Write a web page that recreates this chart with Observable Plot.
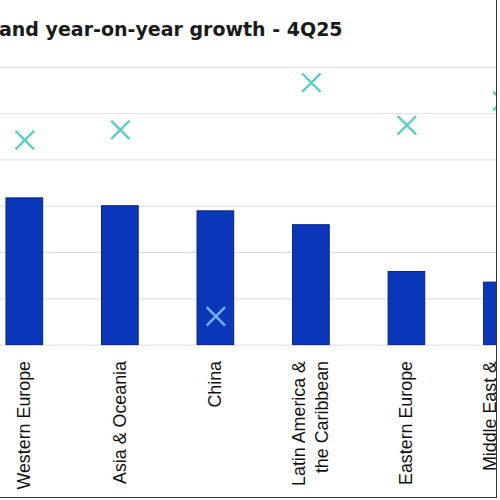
<!DOCTYPE html>
<html>
<head>
<meta charset="utf-8">
<script src="https://cdn.jsdelivr.net/npm/d3@7"></script>
<script src="https://cdn.jsdelivr.net/npm/@observablehq/plot@0.6"></script>
<style>
  html, body { margin: 0; padding: 0; background: #fff; }
  #frame {
    position: absolute; left: 0; top: 0;
    width: 496px; height: 497px;
    border-right: 1.5px solid #333; border-bottom: 1.5px solid #333;
    overflow: hidden; background: #fff;
  }
  #title {
    position: absolute; left: -1px; top: 19px;
    font-family: "DejaVu Sans", sans-serif; font-weight: bold;
    font-size: 19px; line-height: 20px; color: #1a1a1a; white-space: nowrap;
  }
  #chart { position: absolute; left: 0; top: 50px; }
</style>
</head>
<body>
<div id="frame">
  <div id="title">and year-on-year growth - 4Q25</div>
  <div id="chart"></div>
</div>
<script>
// Regions (category axis), as visible in the cropped reference
const regions = ["Western Europe", "Asia & Oceania", "China", "Latin America & the Caribbean", "Eastern Europe", "Middle East & Africa"];
const regionLabels = ["Western Europe", "Asia & Oceania", "China", "Latin America &\nthe Caribbean", "Eastern Europe", "Middle East &\nAfrica"];
// Bar values (in gridline units)
const barValues = [3.17, 3.0, 2.89, 2.59, 1.58, 1.35];
// Year-on-year growth markers (same gridline units)
const growthValues = [4.43, 4.65, 0.62, 5.67, 4.75, 5.27];
// Gridline ticks
const gridTicks = [0, 1, 2, 3, 4, 5, 6];

const data = regions.map((r, i) => ({region: r, label: regionLabels[i], value: barValues[i], growth: growthValues[i]}));

const chart = Plot.plot({
  width: 500,
  height: 450,
  marginTop: 17,
  marginBottom: 153,
  marginLeft: 0,
  marginRight: 0,
  x: {domain: regions, range: [-53.3, 583.8], padding: 0.616, round: false, axis: null},
  y: {domain: [0, 6], axis: null},
  marks: [
    Plot.gridY(gridTicks, {stroke: "#dedede", strokeOpacity: 1, strokeWidth: 1}),
    Plot.barY(data, {x: "region", y: "value", fill: "#0a37b9", stroke: "#04238c", strokeWidth: 1}),
    Plot.dot(data.filter(d => d.region !== "China"), {x: "region", y: "growth", symbol: "times", r: 8.5, stroke: "#5dd0c3", strokeWidth: 2.5}),
    Plot.dot(data.filter(d => d.region === "China"), {x: "region", y: "growth", symbol: "times", r: 8.5, stroke: "#72b2f5", strokeWidth: 2.5}),
    Plot.text(data, {x: "region", text: "label", frameAnchor: "bottom", lineAnchor: "middle", dx: -2, dy: 16, rotate: -90, textAnchor: "end",
      fontSize: 18, lineHeight: 1.3, fontFamily: "Liberation Sans, Arial, sans-serif", fill: "#111"})
  ]
});
document.getElementById("chart").appendChild(chart);
</script>
</body>
</html>
